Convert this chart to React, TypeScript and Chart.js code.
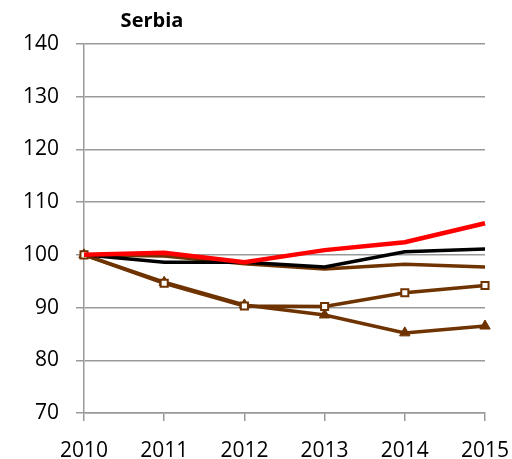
import React, { useEffect, useRef } from "react";
import { Chart, registerables } from "chart.js";

Chart.register(...registerables);

const years = ["2010", "2011", "2012", "2013", "2014", "2015"];
const redSeries = [100, 100.4, 98.6, 100.9, 102.4, 106.0];
const blackSeries = [100, 98.6, 98.6, 97.7, 100.6, 101.1];
const brownSeries = [100, 99.8, 98.3, 97.3, 98.2, 97.7];
const squareSeries = [100, 94.6, 90.3, 90.2, 92.8, 94.2];
const triangleSeries = [100, 94.8, 90.5, 88.6, 85.2, 86.5];
const titleText = "Serbia";

const BROWN = "#6e3300";
const GRID = "#9a9a9a";

export default function App() {
  const ref = useRef<HTMLCanvasElement | null>(null);
  useEffect(() => {
    document.body.style.margin = "0";
    const titlePlugin = {
      id: "titleText",
      afterDraw(chart: any) {
        const ctx = chart.ctx;
        ctx.save();
        ctx.font = "bold 20px 'Open Sans'";
        ctx.fillStyle = "#000";
        ctx.textAlign = "center";
        ctx.textBaseline = "middle";
        ctx.fillText(titleText, 152, 21);
        ctx.restore();
      },
    };
    const chart = new Chart(ref.current!, {
      type: "line",
      data: {
        labels: years,
        datasets: [
          { data: redSeries, borderColor: "#ff0000", borderWidth: 4.5, pointRadius: 0, tension: 0 },
          { data: blackSeries, borderColor: "#000000", borderWidth: 3.5, pointRadius: 0 },
          { data: brownSeries, borderColor: BROWN, borderWidth: 3.5, pointRadius: 0 },
          {
            data: squareSeries, borderColor: BROWN, borderWidth: 3.5, pointStyle: "rect", pointRadius: 5,
            pointBackgroundColor: "#ffffff", pointBorderColor: BROWN, pointBorderWidth: 2,
          },
          {
            data: triangleSeries, borderColor: BROWN, borderWidth: 3.5, pointStyle: "triangle", pointRadius: 6,
            pointBackgroundColor: BROWN, pointBorderColor: BROWN, pointBorderWidth: 1,
          },
        ],
      },
      options: {
        animation: false,
        responsive: false,
        layout: { padding: { top: 44, right: 27, left: 0, bottom: 0 } },
        plugins: { legend: { display: false }, tooltip: { enabled: false } },
        scales: {
          x: {
            type: "category",
            offset: false,
            grid: { drawOnChartArea: false, drawTicks: true, tickLength: 8, color: GRID, lineWidth: 1.5 },
            border: { color: GRID, width: 1.5 },
            ticks: { color: "#000", font: { family: "'Open Sans'", size: 21 }, padding: 17, maxRotation: 0, autoSkip: false },
            afterFit(scale: any) { scale.height = 46; scale.paddingRight = 0; scale.paddingLeft = 0; },
          },
          y: {
            min: 70,
            max: 140,
            grid: { color: GRID, lineWidth: 1.5, tickLength: 8 },
            border: { color: GRID, width: 1.5 },
            ticks: { stepSize: 10, color: "#000", font: { family: "'Open Sans'", size: 21 }, padding: 17 },
            afterFit(scale: any) { scale.width = 84; },
          },
        },
      },
      plugins: [titlePlugin],
    });
    return () => chart.destroy();
  }, []);
  return (
    <div style={{ width: 512, height: 459 }}>
      <canvas ref={ref} width={512} height={459} />
    </div>
  );
}
